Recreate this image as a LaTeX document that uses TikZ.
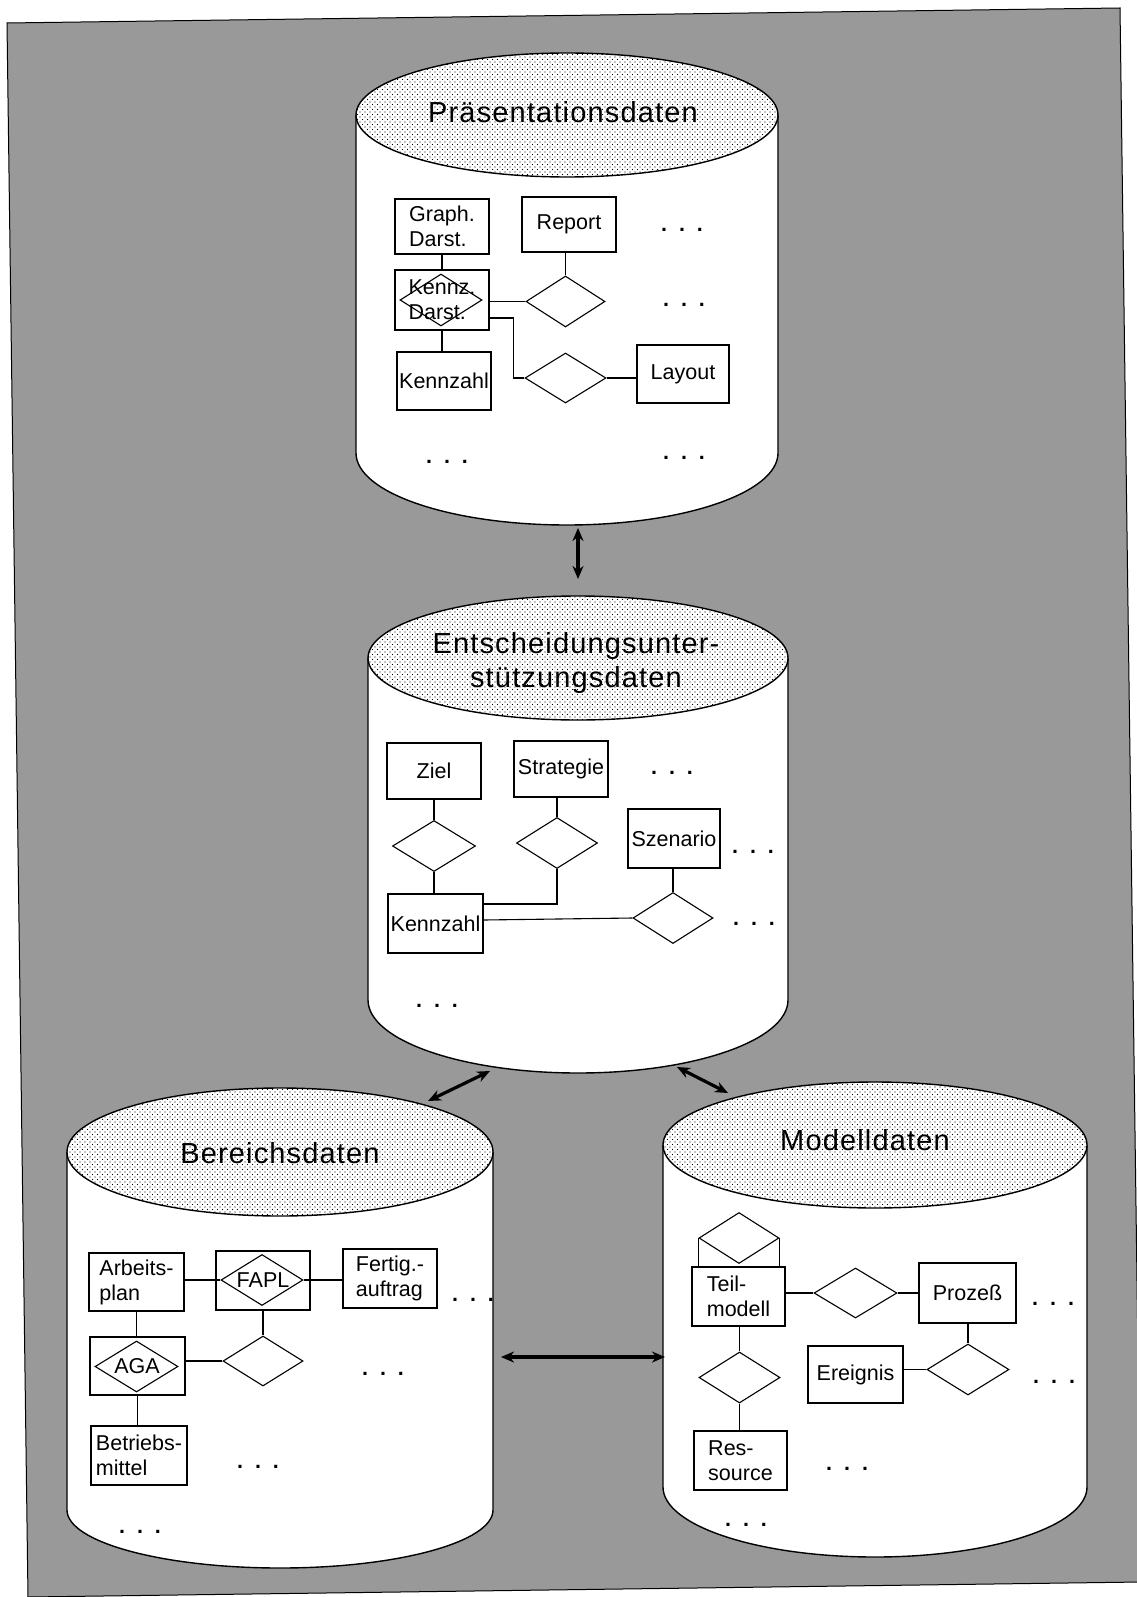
\documentclass[tikz,border=0pt]{standalone}
\usepackage{fontspec}
\setmainfont{Liberation Sans}
\usetikzlibrary{shapes.geometric,arrows.meta,patterns}

% fine staggered stipple for the cylinder lids
\pgfdeclarepatternformonly{stipple}{\pgfqpoint{-1pt}{-1pt}}{\pgfqpoint{4pt}{4pt}}{\pgfqpoint{5pt}{5pt}}{%
  \pgfpathcircle{\pgfqpoint{0pt}{0pt}}{0.7pt}%
  \pgfpathcircle{\pgfqpoint{2.5pt}{2.5pt}}{0.7pt}%
  \pgfusepath{fill}}

\newcommand\lbl{\fontsize{21.5}{25}\selectfont}
\newcommand\ttl{\fontsize{29}{34}\selectfont\addfontfeature{LetterSpace=4}}

% database drum: name, centre x, lid centre y, x radius, lid y radius, side bottom y, bottom bulge
\newcommand\drum[7]{%
  \path[fill=white,draw=black,line width=1.4pt] ({#2-#4},#3) -- ({#2-#4},#6)
     .. controls ({#2-#4},{#6+0.5523*#7}) and ({#2-0.5523*#4},{#6+#7}) .. (#2,{#6+#7})
     .. controls ({#2+0.5523*#4},{#6+#7}) and ({#2+#4},{#6+0.5523*#7}) .. ({#2+#4},#6)
     -- ({#2+#4},#3);
  \fill[white] (#2,#3) ellipse [x radius=#4, y radius=#5];
  \fill[pattern=stipple] (#2,#3) ellipse [x radius=#4, y radius=#5];
  \draw[line width=1.4pt] (#2,#3) ellipse [x radius=#4, y radius=#5];
  \coordinate (#1-top) at (#2,{#3-#5});
  \coordinate (#1-bot) at (#2,{#6+#7});
}

\tikzset{
  ent/.style={draw, line width=1.1pt, fill=white, inner sep=0pt, font=\lbl, align=left},
  rel/.style={draw, diamond, line width=1.1pt, fill=white, inner sep=0pt},
  lab/.style={inner sep=0pt, font=\lbl, align=left},
  link/.style={line width=1.1pt},
  more/.style={inner sep=0pt, font=\lbl\bfseries},
  drumtitle/.style={inner sep=0pt, font=\ttl, align=center},
  dbarrow/.style={line width=3.2pt, {Stealth[length=13pt,width=11pt]}-{Stealth[length=13pt,width=11pt]}},
}
\newcommand\etc{.\hspace{12pt}.\hspace{12pt}.}

\begin{document}
\begin{tikzpicture}[x=1pt,y=-1pt]
\useasboundingbox (0,0) rectangle (1136,1597);

% shaded sheet
\filldraw[fill=black!40, draw=black, line width=1pt] (7,23) -- (1120,8) -- (1141,1582) -- (28,1597) -- cycle;

% ---------------- Praesentationsdaten
\drum{P}{567}{115}{211}{62}{453}{72}
\node[drumtitle] (tP) at (563,112) {Präsentationsdaten};
\node[ent, minimum width=94, minimum height=55] (graph) at (442,226.5) {Graph.\\Darst.};
\node[ent, minimum width=94, minimum height=55] (report) at (569,224.5) {Report};
\node[ent, minimum width=94, minimum height=60] (kdbox) at (442,300) {};
\node[rel, minimum width=82, minimum height=52] (kdrel) at (441,300) {};
\node[lab] (kdtxt) at (442,300) {Kennz.\\Darst.};
\node[ent, minimum width=94, minimum height=58] (kzP) at (444,381) {Kennzahl};
\node[rel, minimum width=79, minimum height=51] (rP1) at (565.5,301.5) {};
\node[rel, minimum width=81, minimum height=50] (rP2) at (565.5,378) {};
\node[ent, minimum width=92, minimum height=58] (layout) at (683,374) {Layout};
\draw[link] (graph.south) -- (kdbox.north);
\draw[link] (kdbox.south) -- (kdbox.south |- kzP.north);
\draw[link] (rP1.north |- report.south) -- (rP1.north);
\draw[link] (kdbox.east |- rP1.west) -- (rP1.west);
\draw[link] ([yshift=-18pt]kdbox.east) -- ++(24,0) |- (rP2.west);
\draw[link] (rP2.east) -- (rP2.east -| layout.west);
\node[more] (mP1) at (682,230) {\etc};
\node[more] (mP2) at (684,305) {\etc};
\node[more] (mP3) at (447,462) {\etc};
\node[more] (mP4) at (684,458) {\etc};

% ---------------- Entscheidungsunterstuetzungsdaten
\drum{E}{578}{658}{210}{62}{1000}{73}
\node[drumtitle] (tE) at (576,663) {Entscheidungsunter-\\stützungsdaten};
\node[ent, minimum width=94, minimum height=56] (ziel) at (434,771) {Ziel};
\node[ent, minimum width=94, minimum height=56] (strat) at (561,769) {Strategie};
\node[rel, minimum width=83, minimum height=51] (rE1) at (434,846) {};
\node[rel, minimum width=81, minimum height=51] (rE2) at (557,843) {};
\node[ent, minimum width=92, minimum height=59] (szen) at (674,838.5) {Szenario};
\node[rel, minimum width=80, minimum height=51] (rE3) at (673,918) {};
\node[ent, minimum width=95, minimum height=59] (kzE) at (435.5,923.5) {Kennzahl};
\draw[link] (ziel.south) -- (rE1.north);
\draw[link] (rE1.south) -- (rE1.south |- kzE.north);
\draw[link] (rE2.north |- strat.south) -- (rE2.north);
\draw[link] (rE2.south) |- ([yshift=19.5pt]kzE.east);
\draw[link] (rE3.north |- szen.south) -- (rE3.north);
\draw[link] ([yshift=3.5pt]kzE.east) -- (rE3.west);
\node[more] (mE1) at (672,773) {\etc};
\node[more] (mE2) at (753,852) {\etc};
\node[more] (mE3) at (754,924) {\etc};
\node[more] (mE4) at (437,1006) {\etc};

% ---------------- Bereichsdaten
\drum{B}{280}{1152}{213}{64}{1510}{58}
\node[drumtitle] (tB) at (280,1153) {Bereichsdaten};
\node[ent, minimum width=95, minimum height=58] (arb) at (136.5,1282) {Arbeits-\\plan};
\node[ent, minimum width=94, minimum height=59] (faplbox) at (263,1280.5) {};
\node[rel, minimum width=82, minimum height=51] (faplrel) at (262,1280) {};
\node[lab] (fapltxt) at (263,1280) {FAPL};
\node[ent, minimum width=94, minimum height=59] (fert) at (390,1278.5) {Fertig.-\\auftrag};
\node[ent, minimum width=95, minimum height=58] (agabox) at (137.5,1366) {};
\node[rel, minimum width=83, minimum height=51] (agarel) at (136.5,1366.5) {};
\node[lab] (agatxt) at (137,1366) {AGA};
\node[rel, minimum width=80, minimum height=50] (rB1) at (263,1361) {};
\node[ent, minimum width=96, minimum height=59] (betr) at (139,1455.5) {Betriebs-\\mittel};
\draw[link] (arb.east |- faplrel.west) -- (faplrel.west);
\draw[link] (faplrel.east) -- (faplrel.east -| fert.west);
\draw[link] (arb.south) -- (arb.south |- agabox.north);
\draw[link] (faplbox.south) -- (rB1.north);
\draw[link] (agabox.east |- rB1.west) -- (rB1.west);
\draw[link] (agabox.south) -- (agabox.south |- betr.north);
\node[more] (mB1) at (473,1300) {\etc};
\node[more] (mB2) at (383,1374) {\etc};
\node[more] (mB3) at (258,1467) {\etc};
\node[more] (mB4) at (140,1532) {\etc};

% ---------------- Modelldaten
\drum{M}{875}{1145}{212}{63}{1487}{70}
\node[drumtitle] (tM) at (865,1140) {Modelldaten};
\node[rel, minimum width=80, minimum height=51] (rM0) at (739,1238) {};
\node[ent, minimum width=93, minimum height=59] (teil) at (738.5,1296.5) {Teil-\\modell};
\node[rel, minimum width=83, minimum height=50] (rM1) at (855.5,1293) {};
\node[ent, minimum width=97, minimum height=60] (proz) at (967.5,1293) {Prozeß};
\node[rel, minimum width=82, minimum height=51] (rM2) at (968,1369.5) {};
\node[ent, minimum width=95, minimum height=57] (ereig) at (855.5,1374.5) {Ereignis};
\node[rel, minimum width=81, minimum height=51] (rM3) at (739.5,1377.5) {};
\node[ent, minimum width=93, minimum height=59] (res) at (740.5,1460.5) {Res-\\source};
\draw[link] (rM0.west) -- (rM0.west |- teil.north);
\draw[link] (rM0.east) -- (rM0.east |- teil.north);
\draw[link] (teil.east |- rM1.west) -- (rM1.west);
\draw[link] (rM1.east) -- (rM1.east -| proz.west);
\draw[link] (rM2.north |- proz.south) -- (rM2.north);
\draw[link] (ereig.east |- rM2.west) -- (rM2.west);
\draw[link] (rM3.north |- teil.south) -- (rM3.north);
\draw[link] (rM3.south) -- (rM3.south |- res.north);
\node[more] (mM1) at (1053,1304) {\etc};
\node[more] (mM2) at (1054,1382) {\etc};
\node[more] (mM3) at (847,1469) {\etc};
\node[more] (mM4) at (746,1525) {\etc};

% ---------------- data flows between the stores
\coordinate (u1) at (578,528);  \coordinate (u2) at (578,579);
\coordinate (v1) at (490,1071); \coordinate (v2) at (428,1101);
\coordinate (w1) at (677,1067); \coordinate (w2) at (728,1093);
\coordinate (h1) at (501,1357); \coordinate (h2) at (665,1357);
\draw[dbarrow] (u1) -- (u2);
\draw[dbarrow] (v1) -- (v2);
\draw[dbarrow] (w1) -- (w2);
\draw[dbarrow] (h1) -- (h2);
\end{tikzpicture}
\end{document}
